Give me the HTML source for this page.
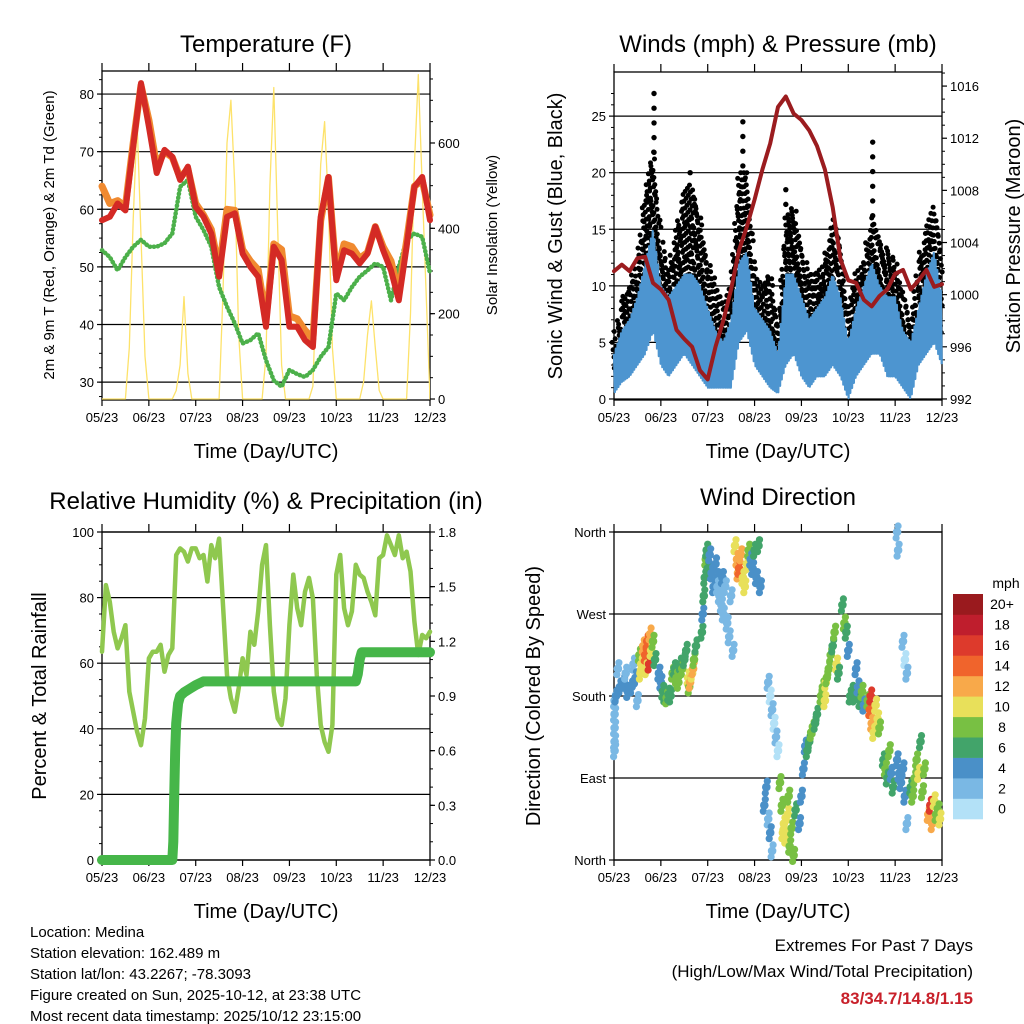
<!DOCTYPE html>
<html><head><meta charset="utf-8"><title>Station Meteogram</title>
<style>
html,body{margin:0;padding:0;background:#fff;}
svg{display:block;font-family:"Liberation Sans",sans-serif;}
</style></head>
<body>
<svg id="chart" width="1024" height="1024" viewBox="0 0 1024 1024" xmlns="http://www.w3.org/2000/svg">
<rect x="0" y="0" width="1024" height="1024" fill="#fff"/>
<text x="266" y="52" font-size="24" text-anchor="middle">Temperature (F)</text>
<text x="778" y="52" font-size="24" text-anchor="middle">Winds (mph) &amp; Pressure (mb)</text>
<text x="266" y="509" font-size="24" text-anchor="middle">Relative Humidity (%) &amp; Precipitation (in)</text>
<text x="778" y="505" font-size="24" text-anchor="middle">Wind Direction</text>
<text x="266" y="458" font-size="20" text-anchor="middle">Time (Day/UTC)</text>
<text x="778" y="458" font-size="20" text-anchor="middle">Time (Day/UTC)</text>
<text x="266" y="918" font-size="20" text-anchor="middle">Time (Day/UTC)</text>
<text x="778" y="918" font-size="20" text-anchor="middle">Time (Day/UTC)</text>
<text transform="translate(54,235) rotate(-90)" font-size="15" text-anchor="middle">2m &amp; 9m T (Red, Orange) &amp; 2m Td (Green)</text>
<text transform="translate(497,235) rotate(-90)" font-size="15" text-anchor="middle">Solar Insolation (Yellow)</text>
<text transform="translate(562,236) rotate(-90)" font-size="20" text-anchor="middle">Sonic Wind &amp; Gust (Blue, Black)</text>
<text transform="translate(1020,236) rotate(-90)" font-size="20" text-anchor="middle">Station Pressure (Maroon)</text>
<text transform="translate(46,696) rotate(-90)" font-size="20" text-anchor="middle">Percent &amp; Total Rainfall</text>
<text transform="translate(540,696) rotate(-90)" font-size="20" text-anchor="middle">Direction (Colored By Speed)</text>
<g font-size="15">
<text x="30" y="937">Location: Medina</text>
<text x="30" y="958">Station elevation: 162.489 m</text>
<text x="30" y="979">Station lat/lon: 43.2267; -78.3093</text>
<text x="30" y="1000">Figure created on Sun, 2025-10-12, at 23:38 UTC</text>
<text x="30" y="1021">Most recent data timestamp: 2025/10/12 23:15:00</text>
</g>
<g font-size="17" text-anchor="end">
<text x="973" y="951">Extremes For Past 7 Days</text>
<text x="973" y="977">(High/Low/Max Wind/Total Precipitation)</text>
<text x="973" y="1004" fill="#c8202a" font-weight="bold">83/34.7/14.8/1.15</text>
</g>
</svg>
<script>
// ---------- data ----------
const xTickLabels = ["05/23","06/23","07/23","08/23","09/23","10/23","11/23","12/23"];
const xTickHours = [0,24,48,72,96,120,144,168];
const hours4 = [0,4,8,12,16,20,24,28,32,36,40,44,48,52,56,60,64,68,72,76,80,84,88,92,96,100,104,108,112,116,120,124,128,132,136,140,144,148,152,156,160,164,168];
const temp2m = [58.1,58.7,61,59.8,70.9,81.9,74.3,66.3,70.3,69.1,65.1,67.4,60.4,58.7,55.8,48.3,58.7,59.3,52.3,50,48.3,39.6,53.5,51.2,39.6,39.6,37.3,36.1,58.7,65.6,47.7,52.9,52.3,50.6,52.3,57,52.9,49.4,44.2,53.5,63.9,65.6,58.1];
const temp9m = [64,61,61.5,60.5,71.5,81.5,75.5,67.5,70,69,65.5,67,61,59,56.5,49.5,60,59.8,53,51,49.5,41,54,53,41.5,41,39,37.5,58,65.5,48.5,54,53.5,51.5,52.5,57,53.5,51,45.5,54.5,64,65,59];
const dewpoint = [52.9,51.7,49.4,51.7,53.5,54.7,53.5,53.5,54.1,55.8,63.9,65.1,58.7,56.4,53.5,46.5,43.1,40.2,36.7,37.3,38.5,33.8,30.3,29.2,32.1,31.4,30.9,32.1,34.4,36.1,45.4,44.2,46.5,48.3,49.4,50.6,50,44.2,50,54.7,55.8,55.2,48.9];
const hours2 = [];
for (let h = 0; h <= 168; h += 2) hours2.push(h);
const solar = [0,0,0,0,0,0,0,120,420,650,380,100,0,0,0,0,0,0,0,20,80,240,60,0,0,0,0,0,0,0,0,250,600,700,500,150,0,0,0,0,0,0,100,500,730,400,80,0,0,0,0,0,0,0,30,300,550,650,450,120,0,0,0,0,0,0,0,40,150,230,120,20,0,0,0,0,0,0,0,200,550,760,500,250,0];
const windLow = [0.5,1.5,2,3,4,6,3,2,3,4,3,2,1,1,1,1,5,6,3,2,1,0.5,3,4,2,1,2,2,3,2,0,2,3,4,4,2,2,1,0,3,4,5,3];
const windHigh = [4,6,7,9,12,15,10,9,10,11,11,10,8,6,5,7,12,13,8,7,6,4,11,11,9,7,8,9,11,9,5,8,10,12,10,9,9,6,5,8,11,13,9];
const gustHigh = [5,8.5,10,12,18.5,22,14,11,15,18,19,16,12,10,8,10,20,20,11,10,11,6,16,17,13,11,11,12,16,13,8,11,12,16,14,13,12,9,7,12,15,17,12];
const gustPeakHours = [20.5,66,132.5,39,88];
const gustPeakValues = [27,24.5,22.7,20,18.5];
const pressure = [1001.8,1002.3,1001.8,1002.8,1002.9,1000.9,1000.4,999.6,997.3,996.6,996.0,994.2,993.5,996.0,998.0,1000.4,1003.4,1005.2,1007.3,1009.6,1011.6,1014.4,1015.2,1013.9,1013.4,1012.6,1011.4,1009.6,1006.7,1002.7,1001.1,1000.9,999.6,999.1,999.9,1000.4,1001.6,1001.9,1000.4,1001.1,1001.9,1000.6,1000.8];
const rh = [63.5,83.8,78.7,69.6,64.5,67.6,71.6,51.3,45.2,39.1,35,43.2,61.5,63.5,63.5,65.6,57.4,62.5,64.5,93,95,94,91,95,95,92,93,84.9,96,92,98,77.7,56.4,49.3,45.2,52.4,61.5,56.4,69.6,65.6,75.8,90,96,71.6,51.3,43.2,41.2,49.3,71.6,87,76.8,71.6,81.8,86,79.7,56.4,41.2,36,33,41.2,87,93,76.8,71.6,75.8,90,87,86,81.8,78.7,74.6,92,93,99,96,93,99,92,94,88,72.7,62.5,68.6,67.6,69.6];
const precipHours = [0,36,36.5,37,37.5,38,39,40,42,45,48,52,130,131,132,133,168];
const precipValues = [0,0,0.1,0.35,0.6,0.75,0.86,0.9,0.92,0.94,0.96,0.98,0.98,1.02,1.1,1.14,1.14];
const dirHours = [0.3,0.3,0.3,0.3,0.3,1,2,3,5,6,7,9,10,11,12,13,13.5,14,15,16,16.5,17,18,18.5,19,20,21,23,24,25,26,27,28,29,30,31,32,33,34,35,36,37,38,38.5,39,40,40.5,41,42,45,45.5,46,46.5,47,47.5,48,49,50,51,52,53,53,54,55,55.5,56,57,58,59,60,61,62,63,63.5,64,65,66,67,68,69,70,71,72,73,74,75,77,78,79,79,80,80,81,81,82,83,84,85,86,86.5,87,88,89,89.5,90,91,92,93,95,96,97,98,99,100,101,102,103,104,106,107,108,108.5,109,110,111,112,113,114,115,117,118,119,120,121,122,123,124,125,126,127,128,130,131,131.5,132,133,134,135,136,138,139,140,141,142,143,145,145,145.5,146,147,148,148,149,149,150,150,152,153,154,155,156,157,158,159,161,162,163,164,165,166,167];
const dirDegrees = [175,160,145,130,120,180,210,190,195,205,185,190,215,200,175,225,205,215,235,225,210,240,215,248,230,240,220,205,195,185,180,178,182,180,205,210,200,195,215,210,220,230,200,190,195,205,210,220,235,250,270,290,310,330,340,320,335,315,300,325,310,300,290,280,310,270,300,260,245,290,230,345,330,315,320,335,310,300,325,340,330,320,340,310,345,300,60,80,45,195,30,180,10,165,150,135,120,85,60,30,40,25,50,70,15,35,5,55,40,70,100,125,120,130,140,145,150,160,180,190,175,195,200,210,225,235,250,215,205,280,260,250,230,180,185,180,210,190,175,185,170,175,165,180,150,140,170,155,145,110,100,90,120,95,80,110,360,340,95,85,100,240,70,220,40,205,80,70,90,110,95,130,75,100,50,60,40,65,50,55,45];
const dirSpeeds = [2,2,1,2,1,3,2,4,3,2,4,4,2,3,2,8,10,9,12,14,10,13,15,12,10,7,6,4,4,5,6,7,6,5,7,6,8,7,6,8,6,5,10,7,12,9,11,8,6,5,4,5,6,7,6,5,4,4,3,4,3,2,2,2,3,2,2,2,2,2,1,10,12,11,13,12,10,9,10,8,4,4,5,4,6,3,3,3,2,1,3,0,2,1,0,1,0,7,8,10,10,9,10,8,7,8,7,6,3,3,4,4,6,6,7,7,6,5,7,8,9,10,8,7,8,6,7,9,5,6,7,5,3,5,6,5,3,4,6,7,4,8,14,16,12,10,10,9,7,6,7,5,8,4,6,4,1,1,3,4,3,1,3,0,2,1,6,7,8,7,9,6,7,8,12,15,11,9,8,7,10];
const speedBins = ["0","2","4","6","8","10","12","14","16","18","20+"];
const speedColors = ["#b3e1f7","#7ab8e4","#4a90c8","#42a46a","#78c043","#e8e05a","#f8a94a","#f0642c","#dd3a2c","#bf1e2d","#9a1a1e"];

// ---------- helpers ----------
const NS = "http://www.w3.org/2000/svg";
const svg = document.getElementById("chart");
function mk(tag, attrs, parent) {
  const e = document.createElementNS(NS, tag);
  for (const k in attrs) e.setAttribute(k, attrs[k]);
  (parent || svg).appendChild(e);
  return e;
}
function linear(d0, d1, r0, r1) { return v => r0 + (v - d0) / (d1 - d0) * (r1 - r0); }
function interp(xs, ys, x) {
  if (x <= xs[0]) return ys[0];
  for (let i = 1; i < xs.length; i++) {
    if (x <= xs[i]) { const f = (x - xs[i-1]) / (xs[i] - xs[i-1]); return ys[i-1] + f * (ys[i] - ys[i-1]); }
  }
  return ys[ys.length - 1];
}
function colorFor(s) { let i = Math.min(10, Math.max(0, Math.round(s / 2))); return speedColors[i]; }

const panels = {
  temp: {x:102, y:71, w:328, h:329},
  wind: {x:614, y:72, w:328, h:328},
  rh: {x:102, y:532, w:328, h:328},
  dir: {x:614, y:532, w:328, h:328}
};
function xScale(p) { return linear(0, 168, p.x, p.x + p.w); }

function drawFrame(p, name, yL, leftTicks, leftLabels, leftMinor, yR, rightTicks, rightLabels, rightMinor) {
  const g = mk("g", {});
  
  
  const xs = xScale(p);
  leftTicks.forEach(v => {
    const y = yL(v);
    const l = mk("line", {x1:p.x, x2:p.x+p.w, y1:y, y2:y, stroke:"#000", "stroke-width":1.2}, g);
    
    
  });
  mk("rect", {x:p.x, y:p.y, width:p.w, height:p.h, fill:"none", stroke:"#000", "stroke-width":1.3}, g);
  xTickHours.forEach((h, i) => {
    const x = xs(h);
    mk("line", {x1:x, x2:x, y1:p.y+p.h, y2:p.y+p.h+6, stroke:"#000", "stroke-width":1.2}, g);
    mk("line", {x1:x, x2:x, y1:p.y, y2:p.y-8, stroke:"#000", "stroke-width":1.2}, g);
    const t = mk("text", {x:x, y:p.y+p.h+22, "font-size":13, "text-anchor":"middle"}, g);
    
    
    t.textContent = xTickLabels[i];
  });
  leftTicks.forEach((v, i) => {
    const y = yL(v);
    mk("line", {x1:p.x-5, x2:p.x, y1:y, y2:y, stroke:"#000", "stroke-width":1.2}, g);
    const t = mk("text", {x:p.x-8, y:y+5, "font-size":13, "text-anchor":"end"}, g);
    
    
    t.textContent = leftLabels[i];
  });
  leftMinor.forEach(v => { const y = yL(v); mk("line", {x1:p.x-3, x2:p.x, y1:y, y2:y, stroke:"#000", "stroke-width":1}, g); });
  if (yR) {
    rightTicks.forEach((v, i) => {
      const y = yR(v);
      mk("line", {x1:p.x+p.w, x2:p.x+p.w+5, y1:y, y2:y, stroke:"#000", "stroke-width":1.2}, g);
      const t = mk("text", {x:p.x+p.w+8, y:y+5, "font-size":13, "text-anchor":"start"}, g);
      
      
      t.textContent = rightLabels[i];
    });
    rightMinor.forEach(v => { const y = yR(v); mk("line", {x1:p.x+p.w, x2:p.x+p.w+3, y1:y, y2:y, stroke:"#000", "stroke-width":1}, g); });
  }
}
function polyline(xsArr, ysArr, xf, yf, attrs, name) {
  const pts = xsArr.map((h, i) => xf(h).toFixed(1) + "," + yf(ysArr[i]).toFixed(1)).join(" ");
  const e = mk("polyline", Object.assign({points:pts, fill:"none", "stroke-linejoin":"round", "stroke-linecap":"round"}, attrs));
  
  
  return e;
}

// ---------- Panel 1: temperature ----------
(function(){
  const p = panels.temp, xs = xScale(p);
  const yT = linear(26.9, 84.0, p.y+p.h, p.y);
  const yS = linear(-2.3, 768.7, p.y+p.h, p.y);
  const clip = mk("clipPath", {id:"clipTemp"}); mk("rect", {x:p.x, y:p.y, width:p.w, height:p.h}, clip);
  const minorL = []; for (let v = 27.5; v < 84; v += 2.5) minorL.push(v);
  const minorR = []; for (let v = 0; v <= 750; v += 50) minorR.push(v);
  drawFrame(p, "temp", yT, [30,40,50,60,70,80], ["30","40","50","60","70","80"], minorL, yS, [0,200,400,600], ["0","200","400","600"], minorR);
  polyline(hours2, solar, xs, yS, {stroke:"#fde26a", "stroke-width":1.3, "clip-path":"url(#clipTemp)"}, "solar-line");
  polyline(hours4, dewpoint, xs, yT, {stroke:"#4cb04a", "stroke-width":4.5, "stroke-dasharray":"0.5 3.5"}, "dewpoint-line");
  polyline(hours4, temp9m, xs, yT, {stroke:"#f08a30", "stroke-width":7}, "temp-9m-line");
  polyline(hours4, temp2m, xs, yT, {stroke:"#d42a25", "stroke-width":6}, "temp-2m-line");
})();

// ---------- Panel 2: winds ----------
(function(){
  const p = panels.wind, xs = xScale(p);
  const yW = linear(-0.09, 28.9, p.y+p.h, p.y);
  const yP = linear(991.92, 1017.08, p.y+p.h, p.y);
  const minorL = []; for (let v = 1; v < 28; v++) if (v % 5) minorL.push(v);
  const minorR = []; for (let v = 993; v <= 1017; v++) if (v % 4) minorR.push(v);
  drawFrame(p, "wind", yW, [0,5,10,15,20,25], ["0","5","10","15","20","25"], minorL, yP, [992,996,1000,1004,1008,1012,1016], ["992","996","1000","1004","1008","1012","1016"], minorR);
  // gust dots (cloud above wind)
  const gg = mk("g", {fill:"#000"});
  
  
  let k = 0;
  for (let h = 0; h <= 168; h += 1.1) {
    const top = interp(hours4, gustHigh, h);
    const bot = interp(hours4, windHigh, h) * 0.6;
    const x = xs(h);
    const span = yW(bot) - yW(top);
    const n = Math.max(1, Math.round(span / 7));
    for (let j = 0; j <= n; j++) {
      const y = yW(top) + span * j / n;
      mk("circle", {cx:(x + ((k % 5) - 2) * 0.9).toFixed(1), cy:y.toFixed(1), r:2.5}, gg);
      k++;
    }
  }
  gustPeakHours.forEach((h, i) => {
    for (let v = gustPeakValues[i]; v > interp(hours4, gustHigh, h); v -= 1.3) {
      mk("circle", {cx:xs(h), cy:yW(v), r:2.7}, gg);
    }
  });
  // sonic wind: dense zig-zag between low and high
  const pts = [];
  let up = true;
  for (let h = 0; h <= 168; h += 0.45) {
    const v = up ? interp(hours4, windHigh, h) : interp(hours4, windLow, h);
    pts.push(xs(h).toFixed(1) + "," + yW(v).toFixed(1));
    up = !up;
  }
  const band = mk("polyline", {points: pts.join(" "), fill:"none", stroke:"#4d95d0", "stroke-width":2.2, "stroke-linejoin":"round"});
  
  
  polyline(hours4, pressure, xs, yP, {stroke:"#9b1c1f", "stroke-width":4}, "pressure-line");
})();

// ---------- Panel 3: RH & precip ----------
(function(){
  const p = panels.rh, xs = xScale(p);
  const yR = linear(0, 100, p.y+p.h, p.y);
  const yPr = linear(0, 1.8, p.y+p.h, p.y);
  const minorL = []; for (let v = 5; v < 100; v += 5) if (v % 20) minorL.push(v);
  const minorR = []; for (let v = 0.1; v < 1.8; v += 0.1) minorR.push(v);
  drawFrame(p, "rh", yR, [0,20,40,60,80,100], ["0","20","40","60","80","100"], minorL, yPr, [0,0.3,0.6,0.9,1.2,1.5,1.8], ["0.0","0.3","0.6","0.9","1.2","1.5","1.8"], minorR);
  polyline(hours2, rh, xs, yR, {stroke:"#8fc84f", "stroke-width":4.5}, "rh-line");
  polyline(precipHours, precipValues, xs, yPr, {stroke:"#46b649", "stroke-width":10}, "precip-line");
})();

// ---------- Panel 4: direction ----------
(function(){
  const p = panels.dir, xs = xScale(p);
  const yD = linear(0, 360, p.y+p.h, p.y);
  drawFrame(p, "dir", yD, [0,90,180,270,360], ["North","East","South","West","North"], [], null, [], [], []);
  const gd = mk("g", {});
  
  
  dirHours.forEach((h, i) => {
    const col = colorFor(dirSpeeds[i]);
    const cx = xs(h), cy = yD(dirDegrees[i]);
    mk("circle", {cx:(cx+1).toFixed(1), cy:(cy-6).toFixed(1), r:3.6, fill:col}, gd);
    mk("circle", {cx:(cx-1).toFixed(1), cy:(cy+6).toFixed(1), r:3.6, fill:col}, gd);
    const c = mk("circle", {cx:cx.toFixed(1), cy:cy.toFixed(1), r:4.3, fill:col}, gd);
    
    
  });
  const cb = mk("g", {});
  
  
  const bx = 953, bw = 30, by = 594, bh = 20.45;
  speedColors.forEach((col, i) => {
    const y = by + (10 - i) * bh;
    const r = mk("rect", {x:bx, y:y.toFixed(1), width:bw, height:(bh+0.3).toFixed(1), fill:col}, cb);
    
    
    const t = mk("text", {x:1002, y:(y + bh/2 + 5).toFixed(1), "font-size":14, "text-anchor":"middle"}, cb);
    
    
    t.textContent = speedBins[i];
  });
  const u = mk("text", {x:1006, y:588, "font-size":14, "text-anchor":"middle"}, cb);
  
  
  u.textContent = "mph";
})();
</script>
</body></html>
